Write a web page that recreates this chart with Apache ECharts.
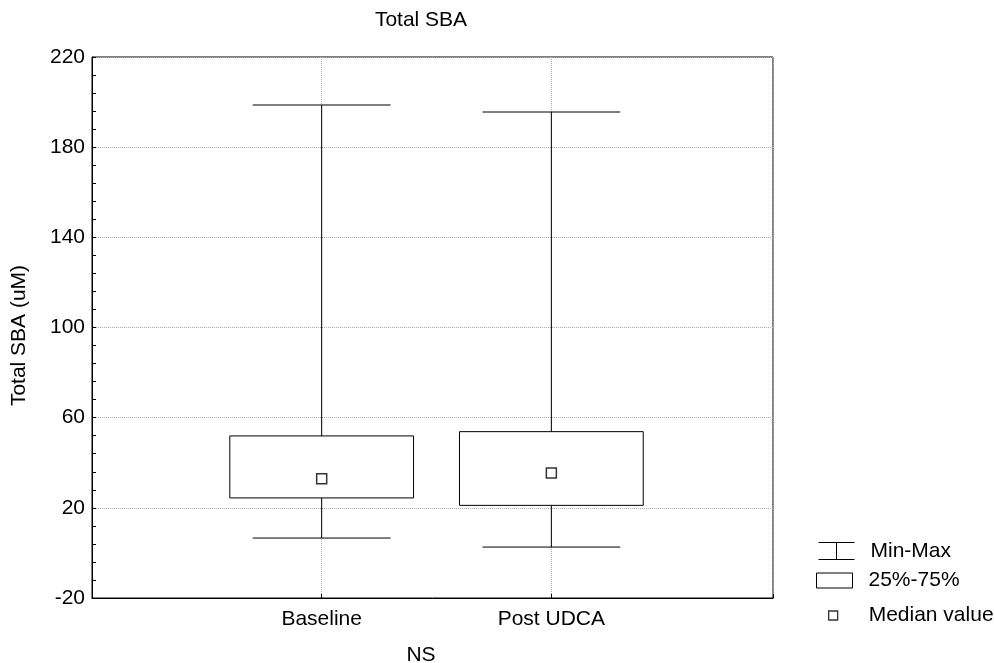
<!DOCTYPE html>
<html><head><meta charset="utf-8">
<script src="https://cdn.jsdelivr.net/npm/echarts@6/dist/echarts.min.js"></script>
<style>html,body{margin:0;padding:0;background:#fff}#c{width:994px;height:663px}</style>
</head><body><div id="c"></div>
<script>
const categories = ['Baseline', 'Post UDCA'];
const minValues = [6.6, 2.6];
const maxValues = [198.7, 195.6];
const q1Values = [24.4, 21.1];
const q3Values = [51.9, 53.8];
const medianValues = [32.9, 35.4];
const yTickLabels = ['-20', '20', '60', '100', '140', '180', '220'];

const FONT = 'Arial, "Liberation Sans", sans-serif';
const FS = 21;
const chart = echarts.init(document.getElementById('c'));
const pos = categories.map((c, i) => i + 1);

const whiskerData = pos.map((x, i) => [x, minValues[i], maxValues[i]]);
const boxData = pos.map((x, i) => [x, q1Values[i], q3Values[i]]);
const medData = pos.map((x, i) => [x, medianValues[i]]);

const lineStyle = { stroke: '#000', lineWidth: 1, fill: null };
const txt = { fontFamily: FONT, fontSize: FS, fontWeight: 'normal', color: '#000' };

const option = {
  animation: false,
  backgroundColor: '#fff',
  title: [
    { text: 'Total SBA', left: 421, top: 10, textAlign: 'center', padding: 0, textStyle: txt },
    { text: 'NS', left: 421, top: 645, textAlign: 'center', padding: 0, textStyle: txt }
  ],
  legend: [
    {
      data: [{ name: 'Min-Max', icon: 'path://M0,0L36,0M18,0L18,17M0,17L36,17' }],
      left: 816, top: 540, padding: 0, itemWidth: 36, itemHeight: 17, selectedMode: false,
      itemStyle: { color: 'none', borderColor: '#000', borderWidth: 1 },
      textStyle: Object.assign({}, txt, { padding: [0, 0, 0, 11] })
    },
    {
      data: [{ name: '25%-75%', icon: 'rect' }],
      left: 816, top: 570, padding: 0, itemWidth: 36, itemHeight: 15, selectedMode: false,
      itemStyle: { color: '#fff', borderColor: '#000', borderWidth: 1 },
      textStyle: Object.assign({}, txt, { padding: [0, 0, 0, 11] })
    },
    {
      data: [{ name: 'Median value', icon: 'rect' }],
      left: 828, top: 605, padding: 0, itemWidth: 9, itemHeight: 9, selectedMode: false,
      itemStyle: { color: '#fff', borderColor: '#000', borderWidth: 1.3 },
      textStyle: Object.assign({}, txt, { padding: [0, 0, 0, 26] })
    }
  ],
  grid: { left: 92, right: 221, top: 57, bottom: 65, show: true, borderColor: '#000', borderWidth: 1, containLabel: false },
  xAxis: {
    type: 'value', min: 0, max: 2.965, interval: 1,
    axisLine: { show: true, onZero: false, lineStyle: { color: '#000', width: 1 } },
    axisTick: { show: true, inside: true, length: 4, lineStyle: { color: '#000' } },
    axisLabel: {
      fontFamily: FONT, fontSize: FS, color: '#000', margin: 11,
      formatter: v => (v >= 1 && v <= categories.length && Number.isInteger(v)) ? categories[v - 1] : ''
    },
    splitLine: { show: true, lineStyle: { color: '#aaa', type: 'dotted', width: 1 } }
  },
  yAxis: {
    type: 'value', min: -20, max: 220, interval: 40,
    name: 'Total SBA (uM)', nameLocation: 'middle', nameGap: 62,
    nameTextStyle: { fontFamily: FONT, fontSize: FS, color: '#000', padding: [0, 16, 0, 0] },
    axisLine: { show: true, onZero: false, lineStyle: { color: '#000', width: 1 } },
    axisTick: { show: true, inside: true, length: 4, lineStyle: { color: '#000' } },
    minorTick: { show: true, splitNumber: 5, length: 4, lineStyle: { color: '#000' } },
    axisLabel: {
      fontFamily: FONT, fontSize: FS, color: '#000', margin: 7,
      formatter: v => { const s = String(v); return yTickLabels.includes(s) ? s : ''; }
    },
    splitLine: { show: true, lineStyle: { color: '#aaa', type: 'dotted', width: 1 } }
  },
  series: [
    {
      name: 'Min-Max', type: 'custom', data: whiskerData, z: 2,
      encode: { x: 0, y: [1, 2] },
      renderItem: (params, api) => {
        const x = api.value(0);
        const lo = api.coord([x, api.value(1)]);
        const hi = api.coord([x, api.value(2)]);
        const half = api.size([0.6, 0])[0] / 2;
        return {
          type: 'group', children: [
            { type: 'line', shape: { x1: lo[0], y1: lo[1], x2: hi[0], y2: hi[1] }, style: lineStyle },
            { type: 'line', shape: { x1: lo[0] - half, y1: lo[1], x2: lo[0] + half, y2: lo[1] }, style: lineStyle },
            { type: 'line', shape: { x1: hi[0] - half, y1: hi[1], x2: hi[0] + half, y2: hi[1] }, style: lineStyle }
          ]
        };
      }
    },
    {
      name: '25%-75%', type: 'custom', data: boxData, z: 3,
      encode: { x: 0, y: [1, 2] },
      renderItem: (params, api) => {
        const x = api.value(0);
        const a = api.coord([x, api.value(1)]);
        const b = api.coord([x, api.value(2)]);
        const w = api.size([0.8, 0])[0];
        return {
          type: 'rect',
          shape: { x: a[0] - w / 2, y: b[1], width: w, height: a[1] - b[1] },
          style: { fill: '#fff', stroke: '#000', lineWidth: 1 }
        };
      }
    },
    {
      name: 'Median value', type: 'scatter', data: medData, z: 4,
      symbol: 'rect', symbolSize: 10,
      itemStyle: { color: '#fff', borderColor: '#000', borderWidth: 1.5 }
    }
  ]
};
chart.setOption(option);
</script>
</body></html>
